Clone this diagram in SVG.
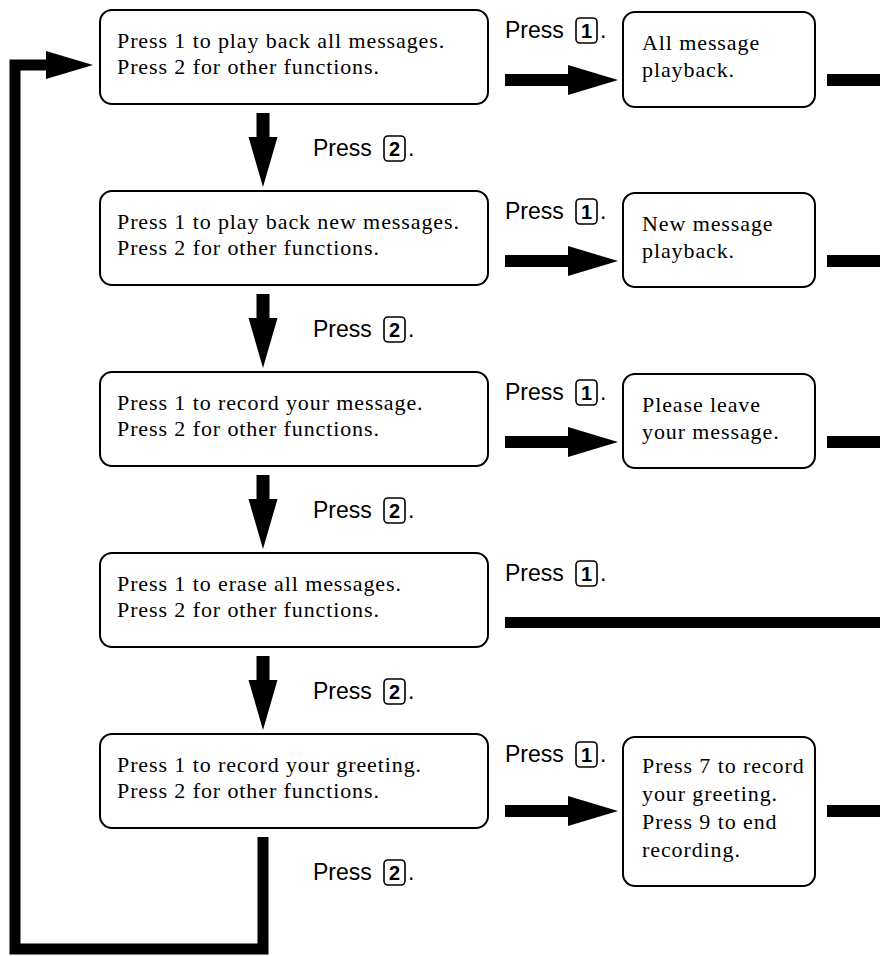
<svg xmlns="http://www.w3.org/2000/svg" width="880" height="956" viewBox="0 0 880 956">
<style>
.box{fill:#fff;stroke:#000;stroke-width:2}
.t{font-family:"Liberation Serif","Times New Roman",serif;font-size:22px;letter-spacing:0.9px;fill:#000}
.lbl{font-family:"Liberation Sans",Arial,sans-serif;font-size:23px;fill:#000}
.key{fill:none;stroke:#000;stroke-width:1.6}
.kd{font-family:"Liberation Sans",Arial,sans-serif;font-size:20px;font-weight:bold;fill:#000;text-anchor:middle}
.arr{fill:#000}
.ln{fill:none;stroke:#000;stroke-width:11;stroke-linejoin:miter;stroke-linecap:butt}
</style>
<rect width="880" height="956" fill="#fff"/>

<g id="connectors">
  <!-- down arrows -->
  <polygon class="arr" points="256.5,113 269.5,113 269.5,137 277.5,137 263,187 248.5,137 256.5,137"/>
  <polygon class="arr" points="256.5,294 269.5,294 269.5,318 277.5,318 263,368 248.5,318 256.5,318"/>
  <polygon class="arr" points="256.5,475 269.5,475 269.5,499 277.5,499 263,549 248.5,499 256.5,499"/>
  <polygon class="arr" points="256.5,656 269.5,656 269.5,680 277.5,680 263,730 248.5,680 256.5,680"/>
  <!-- right arrows -->
  <polygon class="arr" points="505,74 568,74 568,65 618,80 568,95 568,86 505,86"/>
  <polygon class="arr" points="505,255 568,255 568,246 618,261 568,276 568,267 505,267"/>
  <polygon class="arr" points="505,436 568,436 568,427 618,442 568,457 568,448 505,448"/>
  <rect class="arr" x="505" y="617" width="375" height="11"/>
  <polygon class="arr" points="505,805 568,805 568,796 618,811 568,826 568,817 505,817"/>
  <!-- exit lines -->
  <rect class="arr" x="827" y="74" width="53" height="12"/>
  <rect class="arr" x="827" y="255" width="53" height="12"/>
  <rect class="arr" x="827" y="436" width="53" height="12"/>
  <rect class="arr" x="827" y="805" width="53" height="12"/>
  <!-- loop back -->
  <polyline class="ln" points="263,837 263,949 15,949 15,65 48,65"/>
  <polygon class="arr" points="46,51 93,65 46,79"/>
  <!-- labels -->
  <g class="lbl">
    <text x="505" y="38">Press</text><text x="600" y="38">.</text>
    <text x="505" y="219">Press</text><text x="600" y="219">.</text>
    <text x="505" y="400">Press</text><text x="600" y="400">.</text>
    <text x="505" y="581">Press</text><text x="600" y="581">.</text>
    <text x="505" y="762">Press</text><text x="600" y="762">.</text>
    <text x="313" y="156">Press</text><text x="408" y="156">.</text>
    <text x="313" y="337">Press</text><text x="408" y="337">.</text>
    <text x="313" y="518">Press</text><text x="408" y="518">.</text>
    <text x="313" y="699">Press</text><text x="408" y="699">.</text>
    <text x="313" y="880">Press</text><text x="408" y="880">.</text>
  </g>
  <g>
    <rect class="key" x="576" y="18" width="21" height="25" rx="4"/><text class="kd" x="586.5" y="38">1</text>
    <rect class="key" x="576" y="199" width="21" height="25" rx="4"/><text class="kd" x="586.5" y="219">1</text>
    <rect class="key" x="576" y="380" width="21" height="25" rx="4"/><text class="kd" x="586.5" y="400">1</text>
    <rect class="key" x="576" y="561" width="21" height="25" rx="4"/><text class="kd" x="586.5" y="581">1</text>
    <rect class="key" x="576" y="742" width="21" height="25" rx="4"/><text class="kd" x="586.5" y="762">1</text>
    <rect class="key" x="384" y="136" width="21" height="25" rx="4"/><text class="kd" x="394.5" y="156">2</text>
    <rect class="key" x="384" y="317" width="21" height="25" rx="4"/><text class="kd" x="394.5" y="337">2</text>
    <rect class="key" x="384" y="498" width="21" height="25" rx="4"/><text class="kd" x="394.5" y="518">2</text>
    <rect class="key" x="384" y="679" width="21" height="25" rx="4"/><text class="kd" x="394.5" y="699">2</text>
    <rect class="key" x="384" y="860" width="21" height="25" rx="4"/><text class="kd" x="394.5" y="880">2</text>
  </g>
</g>

<g id="menu1">
  <rect class="box" x="100" y="10" width="388" height="94" rx="12"/>
  <text class="t" x="117" y="48">Press 1 to play back all messages.</text>
  <text class="t" x="117" y="74">Press 2 for other functions.</text>
</g>
<g id="menu2">
  <rect class="box" x="100" y="191" width="388" height="94" rx="12"/>
  <text class="t" x="117" y="229">Press 1 to play back new messages.</text>
  <text class="t" x="117" y="255">Press 2 for other functions.</text>
</g>
<g id="menu3">
  <rect class="box" x="100" y="372" width="388" height="94" rx="12"/>
  <text class="t" x="117" y="410">Press 1 to record your message.</text>
  <text class="t" x="117" y="436">Press 2 for other functions.</text>
</g>
<g id="menu4">
  <rect class="box" x="100" y="553" width="388" height="94" rx="12"/>
  <text class="t" x="117" y="591">Press 1 to erase all messages.</text>
  <text class="t" x="117" y="617">Press 2 for other functions.</text>
</g>
<g id="menu5">
  <rect class="box" x="100" y="734" width="388" height="94" rx="12"/>
  <text class="t" x="117" y="772">Press 1 to record your greeting.</text>
  <text class="t" x="117" y="798">Press 2 for other functions.</text>
</g>

<g id="allPlayback">
  <rect class="box" x="623" y="12" width="192" height="95" rx="12"/>
  <text class="t" x="642" y="50">All message</text>
  <text class="t" x="642" y="77">playback.</text>
</g>
<g id="newPlayback">
  <rect class="box" x="623" y="193" width="192" height="94" rx="12"/>
  <text class="t" x="642" y="231">New message</text>
  <text class="t" x="642" y="258">playback.</text>
</g>
<g id="leaveMessage">
  <rect class="box" x="623" y="374" width="192" height="94" rx="12"/>
  <text class="t" x="642" y="412">Please leave</text>
  <text class="t" x="642" y="439">your message.</text>
</g>
<g id="recordGreeting">
  <rect class="box" x="623" y="737" width="192" height="149" rx="12"/>
  <text class="t" x="642" y="773">Press 7 to record</text>
  <text class="t" x="642" y="801">your greeting.</text>
  <text class="t" x="642" y="829">Press 9 to end</text>
  <text class="t" x="642" y="857">recording.</text>
</g>
</svg>
